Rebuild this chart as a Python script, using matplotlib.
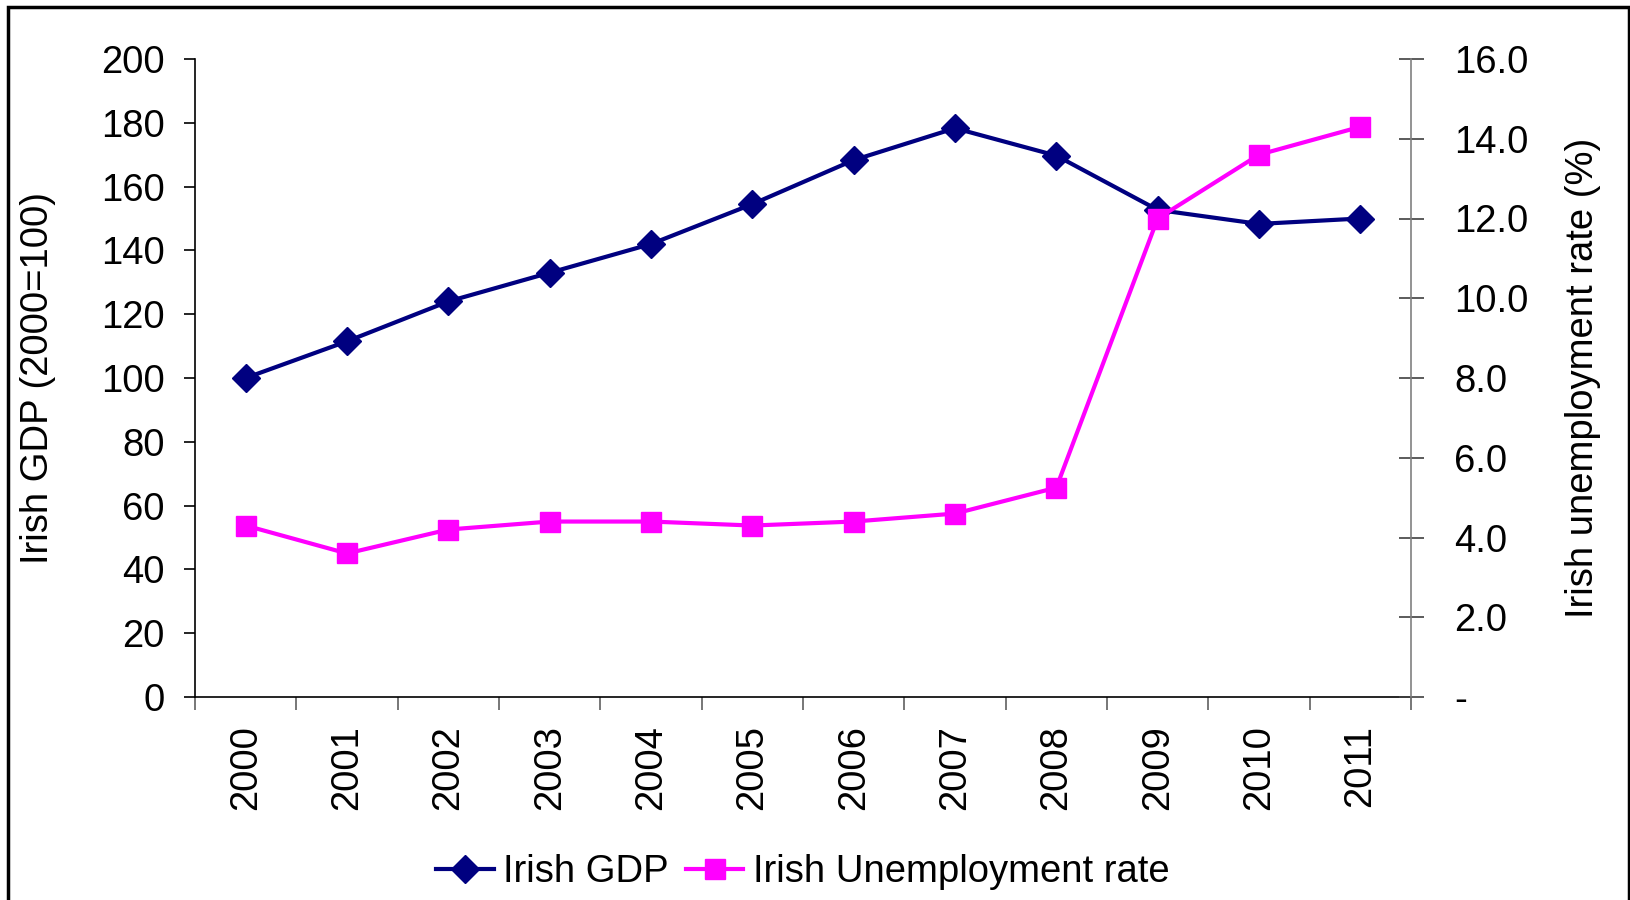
import matplotlib.pyplot as plt
from matplotlib.patches import Rectangle

plt.rcParams['font.family'] = ['Liberation Sans', 'DejaVu Sans']

# dados
anos = ["2000", "2001", "2002", "2003", "2004", "2005", "2006", "2007", "2008", "2009", "2010", "2011"]
pib = [100, 111.5, 124, 133, 142, 154.5, 168.3, 178.3, 169.7, 152.7, 148.3, 150]
desemprego = [4.3, 3.6, 4.2, 4.4, 4.4, 4.3, 4.4, 4.6, 5.25, 12.0, 13.6, 14.3]

fs = 27.5

fig = plt.figure(figsize=(16.31, 9.0), dpi=100)
ax = fig.add_axes([195/1631, 1 - 697/900, 1216/1631, 638/900])
ax2 = ax.twinx()

x = range(len(anos))
l1, = ax.plot(x, pib, color='#000080', lw=3, marker='D', ms=14, label='Irish GDP')
l2, = ax2.plot(x, desemprego, color='#FF00FF', lw=3, marker='s', ms=14.5, label='Irish Unemployment rate')

ax.set_xlim(-0.5, len(anos) - 0.5)
ax.set_ylim(0, 200)
ax2.set_ylim(0, 16)

# eixo esquerdo
ax.set_yticks(range(0, 201, 20))
ax.tick_params(axis='y', labelsize=fs, length=8, width=1.2, pad=14)
ax.set_ylabel("Irish GDP (2000=100)", fontsize=fs)
ax.yaxis.set_label_coords(-0.1146, 0.5)

# eixo x com marcas entre as categorias
ax.set_xticks([i - 0.5 for i in range(len(anos) + 1)])
ax.set_xticklabels([])
ax.set_xticks(list(x), minor=True)
ax.set_xticklabels(anos, minor=True, rotation=90, fontsize=fs)
ax.tick_params(axis='x', which='major', length=9, width=1.2, color='#606060')
ax.tick_params(axis='x', which='minor', length=0, pad=20)

# eixo direito
ax2.set_yticks([i * 2 for i in range(9)])
ax2.set_yticklabels(['-'] + ['%.1f' % (i * 2) for i in range(1, 9)])
ax2.tick_params(axis='y', labelsize=fs, length=18, width=1.2, direction='inout', color='#404040', pad=22)
ax2.set_ylabel("Irish unemployment rate (%)", fontsize=fs)
ax2.yaxis.set_label_coords(1.127, 0.5)

for a in (ax, ax2):
    a.spines['top'].set_visible(False)
ax.spines['right'].set_visible(False)
ax2.spines['left'].set_visible(False)
ax2.spines['bottom'].set_visible(False)
ax2.spines['right'].set_color('#808080')
ax2.spines['right'].set_linewidth(1.2)
ax.spines['left'].set_linewidth(1.2)
ax.spines['bottom'].set_linewidth(1.2)

fig.legend(handles=[l1, l2], loc='center', bbox_to_anchor=(803/1631, 1 - 872/900),
           ncol=2, frameon=False, fontsize=fs, handlelength=1.5, handletextpad=0.25, columnspacing=0.45,
           borderaxespad=0)

# moldura
fig.patches.append(Rectangle((8/1631, -0.05), 1621/1631, 1.05 - 7/900, transform=fig.transFigure,
                             fill=False, edgecolor='black', lw=2.5))

fig.savefig('out.png', dpi=100)
